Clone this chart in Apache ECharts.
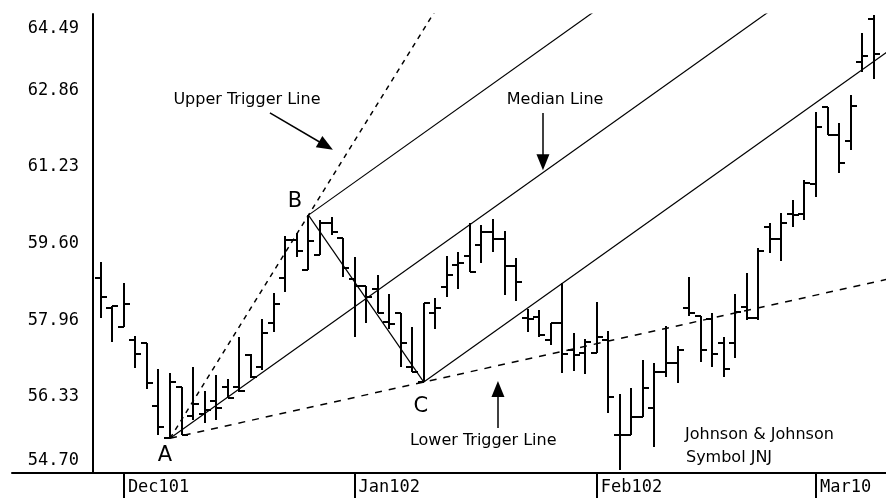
<!DOCTYPE html>
<html>
<head>
<meta charset="utf-8">
<title>JNJ - Andrews Pitchfork</title>
<script src="https://cdn.jsdelivr.net/npm/echarts@6/dist/echarts.min.js"></script>
<style>
  html, body { margin: 0; padding: 0; background: #fff; }
  #chart { width: 886px; height: 498px; }
</style>
</head>
<body>
<div id="chart"></div>
<script>
// daily bars, one per trading day (index 0 = first bar, late Nov 2001)
const opens  = [58.86, 58.22, 57.81, 57.54, 57.47, 56.13, 55.45, 56.53, 55.92, 55.96,
                56.24, 56.53, 56.53, 57.22, 56.96, 57.90, 58.86, 59.67, 59.03, 59.35,
                60.03, 59.71, 58.84, 58.69, 58.62, 57.92, 58.11, 56.96, 56.64, 58.11,
                58.67, 59.14, 59.33, 59.56, 59.84, 59.69, 59.12, 58.01, 58.03, 57.54,
                57.90, 57.32, 57.26, 57.26, 57.54, 55.51, 55.51, 55.89, 56.09, 56.85,
                57.05, 58.22, 58.05, 57.99, 57.47, 57.47, 58.24, 58.01, 59.95, 59.69,
                60.22, 60.22, 60.86, 62.51, 61.91, 61.78, 63.47, 64.38];
const highs  = [59.20, 58.26, 58.75, 57.62, 57.47, 56.92, 56.83, 56.53, 56.96, 56.45,
                56.79, 56.71, 57.60, 57.24, 57.99, 58.54, 59.76, 59.82, 60.20, 60.10,
                60.16, 59.71, 59.31, 58.69, 58.92, 58.52, 58.11, 57.81, 58.33, 58.43,
                59.33, 59.41, 60.03, 59.99, 60.12, 59.86, 59.29, 58.20, 58.18, 57.90,
                58.75, 57.69, 57.56, 58.35, 57.73, 56.39, 56.51, 57.11, 57.05, 57.84,
                57.41, 58.88, 58.05, 58.11, 57.60, 58.52, 58.97, 59.50, 60.03, 60.25,
                60.52, 60.95, 62.40, 62.51, 62.17, 62.76, 64.09, 64.47];
const lows   = [58.01, 57.49, 57.81, 56.94, 56.49, 55.51, 55.44, 55.51, 55.83, 55.77,
                55.83, 56.30, 56.43, 56.73, 56.90, 57.71, 58.56, 59.31, 59.03, 59.35,
                59.78, 58.88, 57.60, 57.90, 58.11, 57.77, 56.96, 56.85, 56.64, 57.77,
                58.45, 58.62, 58.99, 59.18, 59.41, 58.50, 58.37, 57.71, 57.60, 57.43,
                56.83, 56.88, 56.81, 57.26, 55.98, 54.76, 55.51, 55.89, 55.25, 56.75,
                56.62, 58.05, 57.07, 56.96, 56.75, 57.15, 57.96, 57.96, 59.39, 59.22,
                59.95, 60.10, 60.59, 61.91, 61.10, 61.59, 63.25, 63.10];
const closes = [58.45, 58.26, 58.31, 57.24, 56.62, 55.68, 56.64, 55.51, 56.17, 56.04,
                56.09, 56.30, 56.45, 56.75, 57.69, 58.31, 59.67, 59.44, 59.65, 60.03,
                59.84, 59.07, 58.69, 58.45, 58.11, 57.88, 57.47, 56.85, 58.33, 58.22,
                58.92, 59.18, 58.99, 59.84, 59.69, 59.12, 58.77, 57.99, 57.64, 57.90,
                57.24, 57.22, 57.49, 57.60, 56.32, 55.51, 55.89, 56.51, 56.85, 57.05,
                57.32, 58.11, 57.32, 57.24, 56.92, 58.13, 58.01, 59.44, 59.69, 60.03,
                60.20, 60.89, 62.08, 61.91, 61.31, 62.53, 63.60, 63.64];

// first bar of each month and its label
const monthTicks  = [2, 22, 43, 62];
const monthLabels = ['Dec101', 'Jan102', 'Feb102', 'Mar10'];
const priceTicks  = [54.70, 56.33, 57.96, 59.60, 61.23, 62.86, 64.49];

// pitchfork pivots: A = low, B = high, C = low
const pivotA = 6, pivotB = 18, pivotC = 28;

const A = [pivotA, lows[pivotA]];
const B = [pivotB, highs[pivotB]];
const C = [pivotC, lows[pivotC]];
const mid = [(B[0] + C[0]) / 2, (B[1] + C[1]) / 2];
const medianSlope = (mid[1] - A[1]) / (mid[0] - A[0]);
const farX = 72; // beyond the axis max, the grid clips it

function ray(p, slope) {
    return [p, [farX, p[1] + slope * (farX - p[0])]];
}
function slopeOf(p, q) {
    return (q[1] - p[1]) / (q[0] - p[0]);
}

const bars = opens.map((o, i) => [i, o, highs[i], lows[i], closes[i]]);

const chart = echarts.init(document.getElementById('chart'));

const axisFont = 'DejaVu Sans Mono';
const noteFont = 'DejaVu Sans';

function lineSeries(name, data, type, width) {
    return {
        name: name,
        type: 'line',
        data: data,
        symbol: 'none',
        silent: true,
        animation: false,
        clip: true,
        z: 3,
        lineStyle: { color: '#000', width: width || 1.2, type: type || 'solid' }
    };
}

function note(text, coord, size, align) {
    return {
        coord: coord,
        symbol: 'rect',
        symbolSize: 1,
        itemStyle: { color: 'rgba(0,0,0,0)' },
        label: {
            show: true,
            position: 'inside',
            formatter: text,
            color: '#000',
            fontFamily: noteFont,
            fontSize: size,
            align: align || 'center',
            verticalAlign: 'middle'
        }
    };
}

const option = {
    animation: false,
    backgroundColor: '#fff',
    grid: { left: 12, right: 0, top: 14, bottom: 25 },
    xAxis: {
        type: 'value',
        min: -7.7,
        max: 68.07,
        axisLine: { onZero: false, lineStyle: { color: '#000', width: 2 } },
        axisTick: {
            customValues: monthTicks,
            length: 25,
            lineStyle: { color: '#000', width: 2 }
        },
        axisLabel: {
            customValues: monthTicks,
            formatter: (v) => monthLabels[monthTicks.indexOf(v)],
            align: 'left',
            padding: [0, 0, 0, 4],
            margin: 6,
            color: '#000',
            fontFamily: axisFont,
            fontSize: 17
        },
        splitLine: { show: false }
    },
    yAxis: {
        type: 'value',
        min: 54.70,
        max: 64.49,
        offset: -81,
        axisLine: { show: true, onZero: false, lineStyle: { color: '#000', width: 2 } },
        axisTick: { show: false },
        splitLine: { show: false },
        axisLabel: {
            customValues: priceTicks,
            margin: 14,
            color: '#000',
            fontFamily: axisFont,
            fontSize: 17,
            formatter: function (v) {
                const s = v.toFixed(2);
                if (v === priceTicks[priceTicks.length - 1]) return '{top|' + s + '}';
                if (v === priceTicks[0]) return '{bot|' + s + '}';
                return s;
            },
            rich: {
                top: { padding: [30, 0, 0, 0], fontFamily: axisFont, fontSize: 17, color: '#000' },
                bot: { padding: [0, 0, 24, 0], fontFamily: axisFont, fontSize: 17, color: '#000' }
            }
        }
    },
    series: [
        {
            name: 'JNJ',
            type: 'custom',
            data: bars,
            z: 4,
            renderItem: function (params, api) {
                const x = api.value(0);
                const hi = api.coord([x, api.value(2)]);
                const lo = api.coord([x, api.value(3)]);
                const op = api.coord([x, api.value(1)]);
                const cl = api.coord([x, api.value(4)]);
                const px = Math.round(hi[0]);
                const tick = 6;
                const style = { stroke: '#000', lineWidth: 2 };
                return {
                    type: 'group',
                    children: [
                        { type: 'line', shape: { x1: px, y1: Math.round(hi[1]), x2: px, y2: Math.round(lo[1]) }, style: style },
                        { type: 'line', shape: { x1: px - tick, y1: Math.round(op[1]), x2: px, y2: Math.round(op[1]) }, style: style },
                        { type: 'line', shape: { x1: px, y1: Math.round(cl[1]), x2: px + tick, y2: Math.round(cl[1]) }, style: style }
                    ]
                };
            },
            markPoint: {
                silent: true,
                animation: false,
                data: [
                    note('Upper Trigger Line', [12.67, 62.66], 16),
                    note('Median Line', [39.38, 62.66], 16),
                    note('Lower Trigger Line', [33.15, 55.38], 16),
                    note('Johnson & Johnson', [50.65, 55.51], 16, 'left'),
                    note('Symbol JNJ', [50.73, 55.02], 16, 'left'),
                    note('A', [5.56, 55.08], 21),
                    note('B', [16.83, 60.50], 21),
                    note('C', [27.75, 56.11], 21)
                ]
            },
            markLine: {
                silent: true,
                animation: false,
                symbol: ['none', 'triangle'],
                symbolSize: [13, 16],
                label: { show: false },
                lineStyle: { color: '#000', width: 1.5, type: 'solid' },
                data: [
                    [{ coord: [14.66, 62.38] }, { coord: [19.52, 61.68] }],
                    [{ coord: [38.33, 62.38] }, { coord: [38.33, 61.33] }],
                    [{ coord: [34.43, 55.66] }, { coord: [34.43, 56.49] }]
                ]
            }
        },
        lineSeries('Median Line', ray(A, medianSlope)),
        lineSeries('Upper Parallel', ray(B, medianSlope)),
        lineSeries('Lower Parallel', ray(C, medianSlope)),
        lineSeries('B-C', [B, C]),
        lineSeries('Upper Trigger Line', ray(A, slopeOf(A, B)), [5, 5], 1.5),
        lineSeries('Lower Trigger Line', ray(A, slopeOf(A, C)), [7, 7], 1.5)
    ]
};

chart.setOption(option);
</script>
</body>
</html>
